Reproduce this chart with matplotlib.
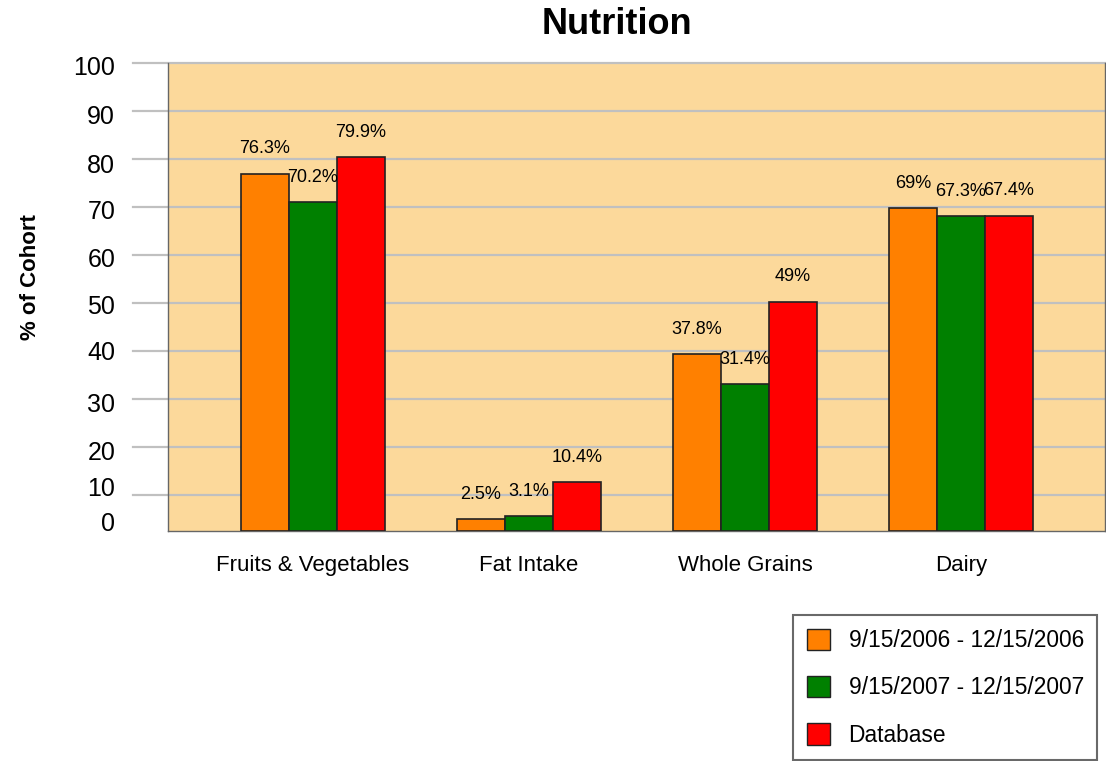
import numpy as np
import matplotlib
matplotlib.use("Agg")
import matplotlib.pyplot as plt
from matplotlib.patches import Patch

plt.rcParams['font.family'] = ['Liberation Sans', 'DejaVu Sans']

# data
categories = ['Fruits & Vegetables', 'Fat Intake', 'Whole Grains', 'Dairy']
series_names = ['9/15/2006 - 12/15/2006', '9/15/2007 - 12/15/2007', 'Database']
period_2006 = [76.3, 2.5, 37.8, 69]
period_2007 = [70.2, 3.1, 31.4, 67.3]
database = [79.9, 10.4, 49, 67.4]
colors = ['#FF8000', '#008000', '#FF0000']

# odd axis of the original: evenly spaced grid lines, labels squeezed at the bottom
ytick_labels = ['100', '90', '80', '70', '60', '50', '40', '30', '20', '10', '0']
ytick_pos = [99.4, 88.9, 78.6, 68.6, 58.5, 48.5, 38.5, 27.4, 17.3, 9.5, 2.0]
grid_pos = 100 - 10.256 * np.arange(10)

fig = plt.figure(figsize=(11.06, 7.61), dpi=100)
ax = fig.add_axes([168/1106, 1-531/761, (1105-168)/1106, (531-63)/761])
ax.set_facecolor('#FCD99B')

x = np.arange(len(categories))
w = 0.222
all_series = [period_2006, period_2007, database]
for i, vals in enumerate(all_series):
    xs = x + (i - 1) * w
    ax.bar(xs, vals, width=w, color=colors[i], edgecolor='#222222',
           linewidth=1.2, zorder=3)
    for xx, v in zip(xs, vals):
        ax.annotate('{:g}%'.format(v), (xx, v), xytext=(0, 25),
                    textcoords='offset pixels', ha='center', va='center',
                    fontsize=13, zorder=4)

for g in grid_pos:
    ax.axhline(g, xmin=-35/937, xmax=1, color='#C0C0C0', lw=1.6,
               clip_on=False, zorder=1)

ax.set_xlim(-0.671, 3.667)
ax.set_ylim(0, 100)
ax.set_xticks(x)
ax.set_xticklabels(categories, fontsize=16)
ax.set_yticks(ytick_pos)
ax.set_yticklabels(ytick_labels, fontsize=18)
ax.tick_params(axis='y', length=0, pad=38)
ax.tick_params(axis='x', length=0, pad=17)
for s in ['left', 'bottom', 'right']:
    ax.spines[s].set_color('#666666')
    ax.spines[s].set_linewidth(1)
ax.spines['top'].set_visible(False)

fig.text(617/1106, 1-24/761, 'Nutrition', fontsize=26, fontweight='bold',
         ha='center', va='center')
fig.text(30/1106, 1-277/761, '% of Cohort', fontsize=16, fontweight='bold',
         rotation=90, ha='center', va='center')

handles = [Patch(facecolor=c, edgecolor='#222222', linewidth=1) for c in colors]
leg = fig.legend(handles, series_names, loc='upper left',
                 bbox_to_anchor=(793/1106, 1-615/761), fontsize=16.4,
                 fancybox=False, frameon=True, edgecolor='#444444',
                 handlelength=1.04, handleheight=1.06, handletextpad=0.8,
                 labelspacing=1.05, borderpad=0.6, borderaxespad=0)
leg.get_frame().set_linewidth(1.5)

fig.savefig('out.png', dpi=100)
